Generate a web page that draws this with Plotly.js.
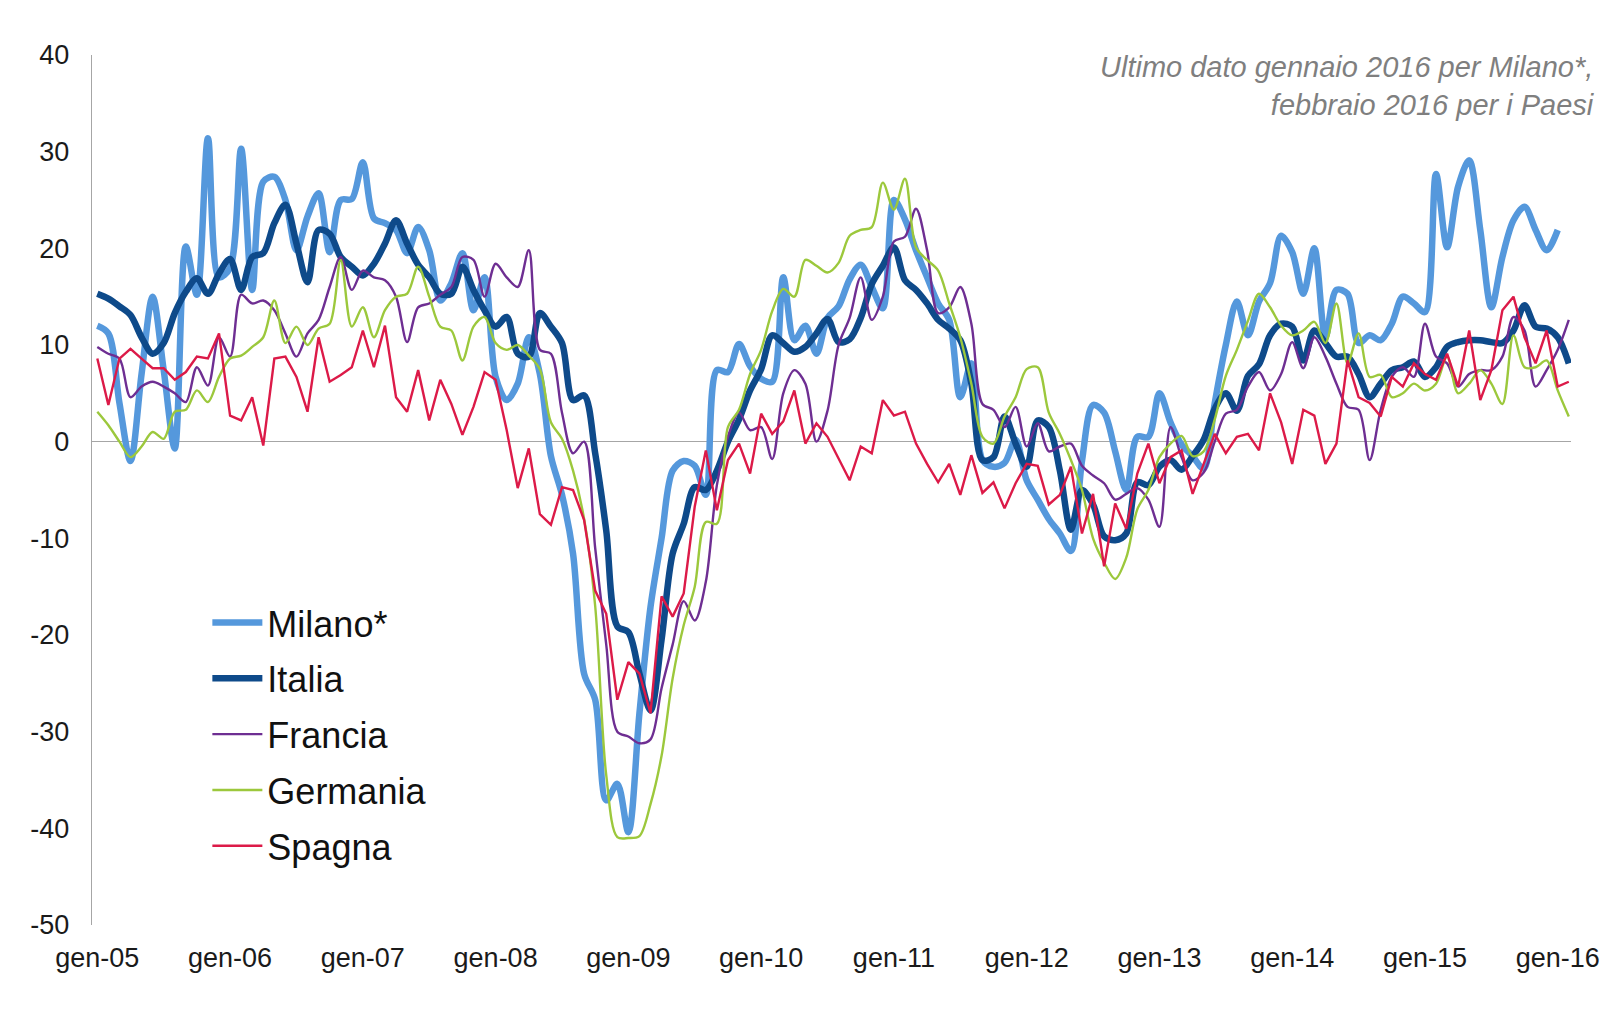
<!DOCTYPE html>
<html>
<head>
<meta charset="utf-8">
<script src="https://cdn.plot.ly/plotly-3.0.1.min.js"></script>
<style>
  html, body { margin: 0; padding: 0; background: #ffffff; }
  #chart { width: 1610px; height: 1017px; }
</style>
</head>
<body>
<div id="chart"></div>
<script>
// Monthly values, January 2005 onward (Milano to Jan 2016, countries to Feb 2016)
const milano = [12, 11.2, 4, -2, 7, 15, 7.4, -0.7, 20.2, 15.2,
 31.4, 17, 18, 30.3, 15.7, 26.9, 27.4, 25, 19.8, 23.3,
 25.7, 19.6, 25, 25.1, 28.9, 23.1, 22.6, 21.9, 19.5, 22.2,
 19.8, 14.6, 16.4, 19.5, 13.6, 17, 6.7, 4.3, 6, 10.8,
 7, -1.5, -5.5, -11.6, -24, -26.7, -37.1, -35.4, -40.4, -28.1,
 -17.1, -10, -3, -2, -2.5, -5.5, 7.4, 7.2, 10.1, 7.8,
 6.5, 6.2, 17, 10.5, 12, 9.1, 12.8, 14, 16.8, 18.3,
 16, 13.8, 25, 23, 19.8, 17, 14.3, 12.6, 4.6, 8.1,
 -1.9, -2.6, -2.2, 0.2, -4, -6, -8, -9.5, -11.3, -2,
 3.8, 3, -1, -5, 0.5, 0.5, 5, 2, -0.3, -1.5,
 -2.8, 4, 10, 14.5, 11, 14.5, 16.4, 21.3, 19.6, 15.3,
 20, 10.8, 15.7, 15.3, 10.2, 11, 10.5, 12.2, 15, 14.3,
 13.4, 27.7, 20.1, 26.4, 29.1, 21.9, 13.9, 19.1, 22.9, 24.3,
 21.9, 19.8, 21.9];

const italia = [15.3, 14.8, 14, 13.1, 10.8, 9.1, 10.2, 13.3, 15.5, 16.9,
 15.3, 17.4, 18.9, 15.7, 19.1, 19.5, 22.6, 24.5, 20.5, 16.5,
 21.9, 21.5, 19.1, 18.1, 17.2, 18.4, 20.5, 22.9, 20.5, 18.3,
 17, 15.3, 15.3, 18.1, 15.7, 13.6, 11.9, 12.9, 9.1, 8.8,
 13.3, 11.9, 10.2, 4.3, 4.8, -1.2, -9.2, -19.1, -19.7, -24,
 -27.8, -20.5, -11.6, -8.5, -4.7, -5, -3, 0, 2.3, 5.3,
 7.5, 11, 10.2, 9.3, 9.8, 11.2, 12.7, 10.3, 10.6, 12.8,
 16.3, 18.2, 20.1, 16.7, 15.7, 14.3, 12.6, 11.7, 10.5, 6,
 -1.9, -1.6, 2.6, -0.2, -2.6, 2.2, 1.5, -3, -9.1, -5,
 -6.5, -9.8, -10.2, -9.5, -4.2, -4.5, -2.6, -1.9, -2.9, -1.5,
 0.2, 3.4, 5, 3.2, 6.8, 8, 11, 12.2, 11.9, 8.4,
 11.5, 10.2, 8.8, 8.8, 7, 4.6, 6, 7.4, 7.7, 8.3,
 6.7, 7.7, 9.8, 10.3, 10.5, 10.5, 10.3, 10.2, 11.5, 14.1,
 11.9, 11.7, 10.8, 8.1];

const francia = [9.8, 9.1, 8.6, 4.6, 5.7, 6.2, 5.7, 5, 4.1, 7.7,
 5.8, 10.8, 8.8, 15.2, 14.3, 14.6, 13.6, 11.2, 8.8, 11.2,
 12.6, 16, 19.1, 15.7, 17.7, 17, 16.7, 15, 10.3, 13.9,
 14.3, 15.2, 16, 19.1, 18.8, 15, 18.4, 17, 16, 19.8,
 9.5, 9.1, 3, -1.2, 0, -11, -21, -30, -30.5, -31.2,
 -30.8, -25.5, -21, -16.5, -18.5, -14.5, -4.5, 0.5, 3, 1.2,
 1.5, -1.8, 5, 7.4, 6, 0, 3.2, 10, 12.8, 17,
 12.6, 15, 20.7, 21.2, 24.1, 19.8, 13.3, 13.9, 16, 12.2,
 3.9, 3.3, 1.5, 3.6, -0.5, 1.9, -1, -0.5, -0.2, -2.5,
 -3.5, -4.3, -6, -5.4, -4.8, -6, -8.8, 1.5, -1.6, -4,
 -3.2, 0, 2.9, 3.3, 5.7, 7.2, 5.3, 7, 10.3, 7.6,
 10.8, 8.8, 6, 3.6, 3.3, -1.9, 3.3, 6.7, 7.7, 6.7,
 12.2, 8.8, 8.1, 5.7, 7, 7.4, 7.4, 8.8, 12.9, 11.5,
 5.7, 7.4, 9.5, 12.6];

const germania = [3.1, 1.7, 0, -1.6, -0.5, 1, 0.3, 3.1, 3.3, 5.3,
 4.1, 6.7, 8.6, 8.9, 9.8, 10.8, 14.6, 10.2, 11.9, 10,
 11.7, 12.2, 18.8, 11.9, 13.9, 10.8, 13.6, 15, 15.3, 18.1,
 15, 11.9, 11.5, 8.4, 11.9, 12.9, 10.2, 9.5, 10, 8.9,
 7.5, 2, 0.3, -3, -8, -17, -34.5, -40.9, -41, -40.8,
 -37.5, -32.5, -24.5, -19, -15, -8.3, -8.5, 1.5, 3.3, 7,
 9.5, 13.5, 15.8, 15, 18.8, 18.2, 17.5, 18.5, 21.3, 21.9,
 22.2, 26.8, 24, 27.2, 20.1, 18.8, 17.7, 14.3, 10.8, 6,
 0.5, -0.2, 2.6, 4.6, 7.5, 7.7, 3, 0.8, -1.9, -5,
 -10, -12.5, -14.2, -12, -7, -5, -1.6, -0.2, 0.6, -1.5,
 -1, 2.3, 6.8, 9.5, 12.5, 15.3, 13.9, 12, 11, 11.5,
 12.4, 10.2, 14.3, 8.1, 11.2, 6.7, 6.9, 4.6, 5, 6,
 5.3, 6, 8.8, 5, 6, 7.4, 6, 3.9, 11, 7.7,
 7.7, 8.4, 5.3, 2.6];

const spagna = [8.6, 3.8, 8.6, 9.6, 8.6, 7.6, 7.6, 6.4, 7.2, 8.8,
 8.6, 11.2, 2.7, 2.2, 4.6, -0.4, 8.6, 8.8, 6.7, 3.1,
 10.8, 6.2, 6.9, 7.7, 11.5, 7.7, 12, 4.6, 3.1, 7.4,
 2.2, 6.4, 3.9, 0.7, 3.6, 7.2, 6.4, 1.2, -4.8, -0.7,
 -7.5, -8.6, -4.7, -5, -8.1, -15.4, -17.8, -26.7, -22.8, -24,
 -28.1, -16, -18.1, -15.7, -6.7, -0.9, -7.1, -1.9, -0.2, -3.3,
 2.9, 0.8, 2.1, 5.3, -0.2, 1.9, 0.5, -1.7, -4, -0.5,
 -1.2, 4.3, 2.7, 3.1, -0.2, -2.3, -4.2, -2.3, -5.5, -1.4,
 -5.3, -4.2, -6.9, -4.3, -2.3, -2.5, -6.5, -5.5, -2.6, -9.5,
 -5.4, -12.9, -6.4, -9, -3.3, -0.2, -4.3, -1.6, -0.9, -5.4,
 -2.3, 0.8, -1.2, 0.5, 0.8, -0.9, 5, 2, -2.3, 3.3,
 2.7, -2.3, -0.2, 8.4, 4.6, 4, 2.6, 6.7, 5.7, 8.1,
 7, 6.4, 9.1, 5.7, 11.5, 4.3, 7.4, 13.6, 15, 10.8,
 8.1, 11.5, 5.7, 6.2];

const tickLabels = ['gen-05','gen-06','gen-07','gen-08','gen-09','gen-10',
                    'gen-11','gen-12','gen-13','gen-14','gen-15','gen-16'];
const seriesNames = ['Milano*', 'Italia', 'Francia', 'Germania', 'Spagna'];
const yTicks = [40, 30, 20, 10, 0, -10, -20, -30, -40, -50];
const yTickText = ['40', '30', '20', '10', '0', '-10', '-20', '-30', '-40', '-50'];
const noteText = 'Ultimo dato gennaio 2016 per Milano*,<br>febbraio 2016 per i Paesi';

// month index positions (0 = gennaio 2005)
const monthIndex = n => Array.from({length: n}, (_, k) => k);
const tickVals = tickLabels.map((_, k) => k * 12);

const styles = [
  {color: '#5598DC', width: 6.5, shape: 'spline', smoothing: 0.9},
  {color: '#0E4A8A', width: 6.5, shape: 'spline', smoothing: 0.9},
  {color: '#6E2E92', width: 2.4, shape: 'spline', smoothing: 0.9},
  {color: '#9CC83C', width: 2.4, shape: 'spline', smoothing: 0.9},
  {color: '#DC1A48', width: 2.4, shape: 'linear'}
];
const allSeries = [milano, italia, francia, germania, spagna];

const traces = allSeries.map((vals, k) => ({
  type: 'scatter',
  mode: 'lines',
  name: seriesNames[k],
  legendgroup: 'g' + k,
  x: monthIndex(vals.length),
  y: vals,
  line: Object.assign({}, styles[k]),
  hoverinfo: 'skip'
}));

const FONT = 'Liberation Sans, Arial, sans-serif';

const layout = {
  width: 1610,
  height: 1017,
  paper_bgcolor: '#ffffff',
  plot_bgcolor: '#ffffff',
  margin: {l: 92, r: 39, t: 55, b: 92, pad: 0},
  showlegend: true,
  legend: {
    x: 0.078, xanchor: 'left',
    y: 0.382, yanchor: 'top',
    font: {family: FONT, size: 36, color: '#111111'},
    bgcolor: 'rgba(0,0,0,0)',
    tracegroupgap: 6,
    itemwidth: 50
  },
  xaxis: {
    range: [-0.48, 133.2],
    tickmode: 'array',
    tickvals: tickVals,
    ticktext: tickLabels,
    showgrid: false,
    zeroline: false,
    showline: false,
    ticks: '',
    ticklabelstandoff: 14,
    tickfont: {family: FONT, size: 27, color: '#1a1a1a'}
  },
  yaxis: {
    range: [-50, 40],
    tickmode: 'array',
    tickvals: yTicks,
    ticktext: yTickText,
    showgrid: false,
    zeroline: true,
    zerolinecolor: '#A6A6A6',
    zerolinewidth: 1.5,
    showline: true,
    linecolor: '#A6A6A6',
    linewidth: 1.3,
    ticks: '',
    ticklabelstandoff: 16,
    tickfont: {family: FONT, size: 27, color: '#1a1a1a'}
  },
  annotations: [{
    xref: 'paper', yref: 'paper',
    x: 1.0175, y: 0.964,
    xanchor: 'right', yanchor: 'middle',
    align: 'right',
    showarrow: false,
    text: '<i>' + noteText + '</i>',
    font: {family: FONT, size: 29, color: '#7F7F7F'}
  }]
};

Plotly.newPlot('chart', traces, layout, {displayModeBar: false, staticPlot: true});
</script>
</body>
</html>
